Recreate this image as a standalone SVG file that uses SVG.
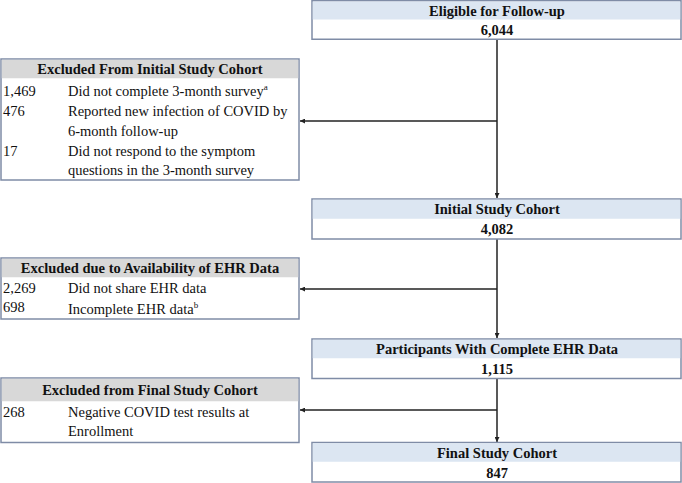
<svg xmlns="http://www.w3.org/2000/svg" width="682" height="483" viewBox="0 0 682 483">
<style>
.box{fill:#fff;stroke:#7f8ca6;stroke-width:1.5}
.hb{fill:#dce6f2}
.hg{fill:#d8d8d8}
text{font-family:"Liberation Serif","Times New Roman",serif;font-size:14.5px;fill:#111}
.b{font-weight:bold}
.c{text-anchor:middle}
.sup{font-size:9px}
.ln{stroke:#222;stroke-width:1.5;fill:none}
</style>
<defs>
<marker id="ah" viewBox="0 0 10 10" refX="10" refY="5" markerWidth="5" markerHeight="5" orient="auto" markerUnits="userSpaceOnUse">
<path d="M0,0 L10,5 L0,10 z" fill="#222"/>
</marker>
</defs>
<g id="connectors">
<line class="ln" x1="497" y1="39" x2="497" y2="198" marker-end="url(#ah)"/>
<line class="ln" x1="497" y1="121" x2="300" y2="121" marker-end="url(#ah)"/>
<line class="ln" x1="497" y1="239" x2="497" y2="338" marker-end="url(#ah)"/>
<line class="ln" x1="497" y1="289" x2="300" y2="289" marker-end="url(#ah)"/>
<line class="ln" x1="497" y1="378" x2="497" y2="442" marker-end="url(#ah)"/>
<line class="ln" x1="497" y1="410" x2="300" y2="410" marker-end="url(#ah)"/>
</g>
<g id="eligible">
<rect class="box" x="312" y="0.75" width="369" height="38.5"/>
<rect class="hb" x="312.75" y="1.5" width="367.5" height="18"/>
<text class="b c" x="497" y="16">Eligible for Follow-up</text>
<text class="b c" x="497" y="35">6,044</text>
</g>
<g id="excluded1">
<rect class="box" x="1" y="59" width="298" height="121"/>
<rect class="hg" x="1.75" y="59.75" width="296.5" height="18.5"/>
<text class="b c" x="150" y="74">Excluded From Initial Study Cohort</text>
<text x="3" y="96">1,469</text>
<text x="68" y="96">Did not complete 3-month survey<tspan class="sup" dy="-6">a</tspan></text>
<text x="3" y="116">476</text>
<text x="68" y="116">Reported new infection of COVID by</text>
<text x="68" y="135.5">6-month follow-up</text>
<text x="3" y="155.5">17</text>
<text x="68" y="155.5">Did not respond to the symptom</text>
<text x="68" y="175">questions in the 3-month survey</text>
</g>
<g id="initial">
<rect class="box" x="312" y="199" width="369" height="40"/>
<rect class="hb" x="312.75" y="199.75" width="367.5" height="19"/>
<text class="b c" x="497" y="214">Initial Study Cohort</text>
<text class="b c" x="497" y="233.5">4,082</text>
</g>
<g id="excluded2">
<rect class="box" x="1" y="258" width="298" height="61"/>
<rect class="hg" x="1.75" y="258.75" width="296.5" height="18.5"/>
<text class="b c" x="150" y="273">Excluded due to Availability of EHR Data</text>
<text x="3" y="292.5">2,269</text>
<text x="68" y="292.5">Did not share EHR data</text>
<text x="3" y="312">698</text>
<text x="68" y="314">Incomplete EHR data<tspan class="sup" dy="-6">b</tspan></text>
</g>
<g id="participants">
<rect class="box" x="312" y="339" width="369" height="39.5"/>
<rect class="hb" x="312.75" y="339.75" width="367.5" height="18.5"/>
<text class="b c" x="497" y="354">Participants With Complete EHR Data</text>
<text class="b c" x="497" y="374">1,115</text>
</g>
<g id="excluded3">
<rect class="box" x="1" y="378" width="298" height="64.5"/>
<rect class="hg" x="1.75" y="378.75" width="296.5" height="22.5"/>
<text class="b c" x="150" y="395">Excluded from Final Study Cohort</text>
<text x="3" y="417">268</text>
<text x="68" y="417">Negative COVID test results at</text>
<text x="68" y="436">Enrollment</text>
</g>
<g id="final">
<rect class="box" x="312" y="442.5" width="369" height="39.5"/>
<rect class="hb" x="312.75" y="443.25" width="367.5" height="18.5"/>
<text class="b c" x="497" y="458">Final Study Cohort</text>
<text class="b c" x="497" y="477.5">847</text>
</g>
</svg>
